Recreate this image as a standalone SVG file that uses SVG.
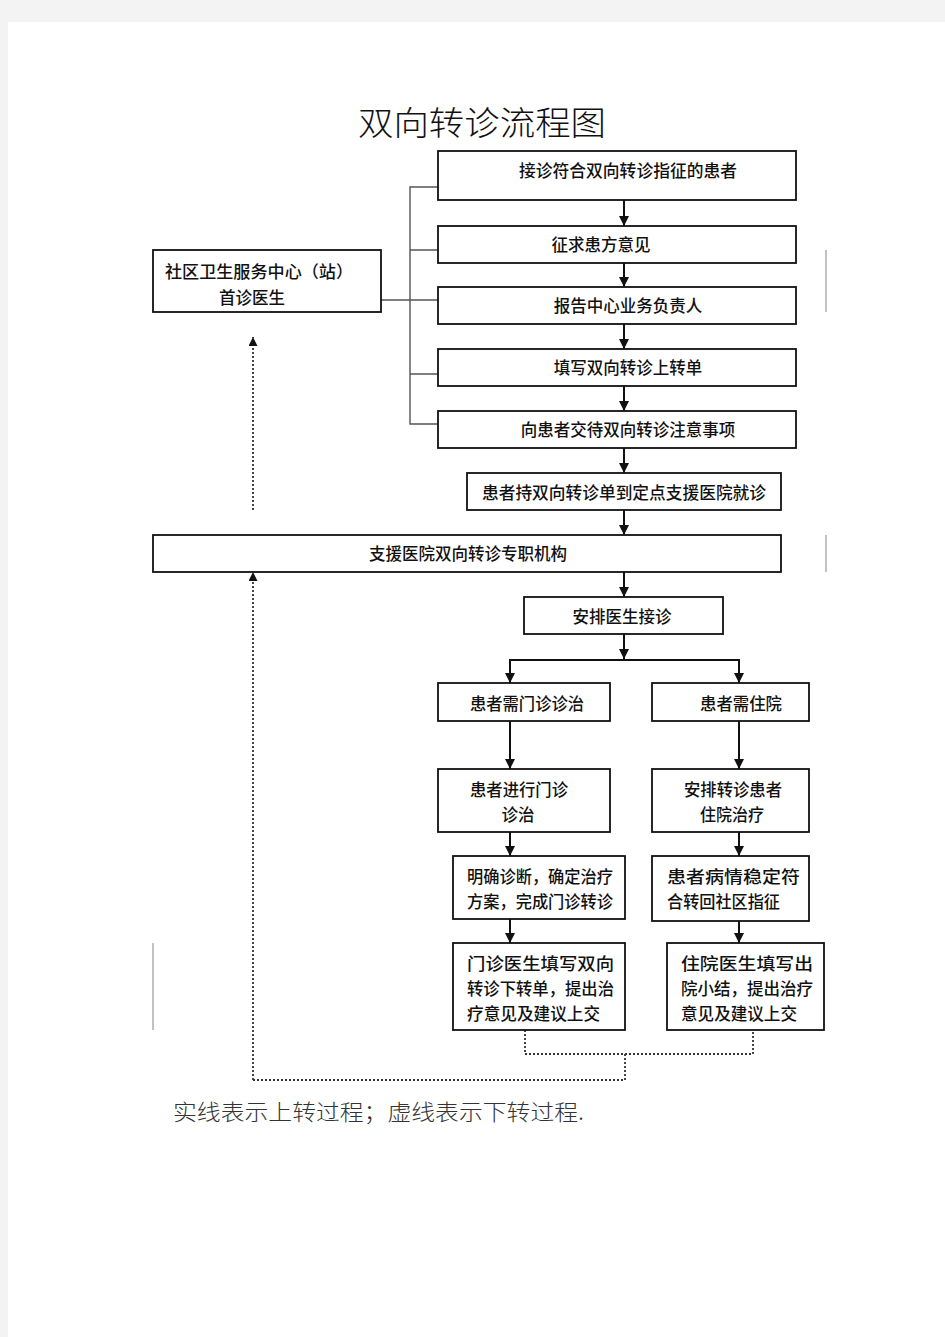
<svg xmlns="http://www.w3.org/2000/svg" width="945" height="1337" viewBox="0 0 945 1337">
<style>
.b{fill:#fff;stroke:#111;stroke-width:1.8}
.t{font-family:"Noto Sans CJK SC","Liberation Sans",sans-serif;font-size:16.5px;font-weight:500;fill:#111;text-anchor:middle;dominant-baseline:central}
.tl{font-family:"Noto Sans CJK SC","Liberation Sans",sans-serif;font-size:16.5px;font-weight:500;fill:#111;dominant-baseline:central}
.s{fill:none;stroke:#111;stroke-width:2}
.g{fill:none;stroke:#555;stroke-width:1.4}
.d{fill:none;stroke:#333;stroke-width:1.8;stroke-dasharray:2 2}
.f{fill:none;stroke:#999;stroke-width:1.2}
</style>
<defs>
<marker id="a" viewBox="0 0 10 10" refX="10" refY="5" markerWidth="10" markerHeight="10" markerUnits="userSpaceOnUse" orient="auto"><path d="M0,0L10,5L0,10z" fill="#111"/></marker>
<marker id="ad" viewBox="0 0 10 10" refX="10" refY="5" markerWidth="9" markerHeight="9" markerUnits="userSpaceOnUse" orient="auto"><path d="M0,0L10,5L0,10z" fill="#111"/></marker>
</defs>
<rect x="0" y="0" width="945" height="1337" fill="#f3f3f3"/>
<rect x="8" y="22" width="937" height="1315" fill="#fff"/>
<text x="482" y="135" font-family="Noto Sans CJK SC,Liberation Serif,serif" font-size="33" font-weight="300" fill="#111" text-anchor="middle" textLength="248" lengthAdjust="spacingAndGlyphs">双向转诊流程图</text>

<g id="connectors">
<path class="g" d="M438,187H410V424H438M410,250H438M381,300H438M410,374H438"/>
<path class="s" marker-end="url(#a)" d="M624,200V226"/>
<path class="s" marker-end="url(#a)" d="M624,263V287"/>
<path class="s" marker-end="url(#a)" d="M624,324V349"/>
<path class="s" marker-end="url(#a)" d="M624,386V411"/>
<path class="s" marker-end="url(#a)" d="M624,448V473"/>
<path class="s" marker-end="url(#a)" d="M624,510V535"/>
<path class="s" marker-end="url(#a)" d="M624,572V597"/>
<path class="s" marker-end="url(#a)" d="M624,634V659"/>
<path class="s" d="M510,660H739"/>
<path class="s" marker-end="url(#a)" d="M510,659V683"/>
<path class="s" marker-end="url(#a)" d="M739,659V683"/>
<path class="s" marker-end="url(#a)" d="M510,721V769"/>
<path class="s" marker-end="url(#a)" d="M739,721V769"/>
<path class="s" marker-end="url(#a)" d="M510,832V856"/>
<path class="s" marker-end="url(#a)" d="M739,832V856"/>
<path class="s" marker-end="url(#a)" d="M510,919V943"/>
<path class="s" marker-end="url(#a)" d="M739,921V943"/>
<path class="d" d="M525,1030V1054H753V1030M625,1054V1080H253"/>
<path class="d" marker-end="url(#ad)" d="M253,1080V572"/>
<path class="d" marker-end="url(#ad)" d="M253,510V337"/>
<path class="f" d="M826,250V312M826,535V572M153,943V1030"/>
</g>

<g id="n1"><rect class="b" x="438" y="151" width="358" height="49"/><text class="t" x="628" y="170" textLength="218" lengthAdjust="spacingAndGlyphs">接诊符合双向转诊指征的患者</text></g>
<g id="n2"><rect class="b" x="438" y="226" width="358" height="37"/><text class="t" x="601" y="244">征求患方意见</text></g>
<g id="n3"><rect class="b" x="438" y="287" width="358" height="37"/><text class="t" x="628" y="305">报告中心业务负责人</text></g>
<g id="n4"><rect class="b" x="438" y="349" width="358" height="37"/><text class="t" x="628" y="367">填写双向转诊上转单</text></g>
<g id="n5"><rect class="b" x="438" y="411" width="358" height="37"/><text class="t" x="628" y="429">向患者交待双向转诊注意事项</text></g>
<g id="n6"><rect class="b" x="467" y="473" width="314" height="37"/><text class="t" x="624" y="492" textLength="284" lengthAdjust="spacingAndGlyphs">患者持双向转诊单到定点支援医院就诊</text></g>
<g id="n0"><rect class="b" x="153" y="250" width="228" height="62"/><text class="tl" x="165" y="271" textLength="188" lengthAdjust="spacingAndGlyphs">社区卫生服务中心（站）</text><text class="t" x="252" y="297">首诊医生</text></g>
<g id="n7"><rect class="b" x="153" y="535" width="628" height="37"/><text class="t" x="468" y="553">支援医院双向转诊专职机构</text></g>
<g id="n8"><rect class="b" x="524" y="597" width="199" height="37"/><text class="t" x="622" y="616">安排医生接诊</text></g>
<g id="n9"><rect class="b" x="438" y="683" width="172" height="38"/><text class="t" x="527" y="703" textLength="114" lengthAdjust="spacingAndGlyphs">患者需门诊诊治</text></g>
<g id="n10"><rect class="b" x="652" y="683" width="157" height="38"/><text class="t" x="741" y="703" textLength="82" lengthAdjust="spacingAndGlyphs">患者需住院</text></g>
<g id="n11"><rect class="b" x="438" y="769" width="172" height="63"/><text class="t" x="519" y="789" textLength="98" lengthAdjust="spacingAndGlyphs">患者进行门诊</text><text class="t" x="518" y="814">诊治</text></g>
<g id="n12"><rect class="b" x="652" y="769" width="157" height="63"/><text class="t" x="733" y="789" textLength="98" lengthAdjust="spacingAndGlyphs">安排转诊患者</text><text class="t" x="732" y="814" textLength="64" lengthAdjust="spacingAndGlyphs">住院治疗</text></g>
<g id="n13"><rect class="b" x="453" y="856" width="172" height="63"/><text class="tl" x="467" y="876" textLength="146" lengthAdjust="spacingAndGlyphs">明确诊断，确定治疗</text><text class="tl" x="467" y="901" textLength="146" lengthAdjust="spacingAndGlyphs">方案，完成门诊转诊</text></g>
<g id="n14"><rect class="b" x="652" y="856" width="157" height="65"/><text class="tl" x="667" y="876" textLength="133" lengthAdjust="spacingAndGlyphs">患者病情稳定符</text><text class="tl" x="667" y="901" textLength="113" lengthAdjust="spacingAndGlyphs">合转回社区指征</text></g>
<g id="n15"><rect class="b" x="453" y="943" width="172" height="87"/><text class="tl" x="467" y="963" textLength="147" lengthAdjust="spacingAndGlyphs">门诊医生填写双向</text><text class="tl" x="467" y="988" textLength="147" lengthAdjust="spacingAndGlyphs">转诊下转单，提出治</text><text class="tl" x="467" y="1013" textLength="133" lengthAdjust="spacingAndGlyphs">疗意见及建议上交</text></g>
<g id="n16"><rect class="b" x="667" y="943" width="157" height="87"/><text class="tl" x="681" y="963" textLength="132" lengthAdjust="spacingAndGlyphs">住院医生填写出</text><text class="tl" x="681" y="988" textLength="132" lengthAdjust="spacingAndGlyphs">院小结，提出治疗</text><text class="tl" x="681" y="1013" textLength="116" lengthAdjust="spacingAndGlyphs">意见及建议上交</text></g>

<text x="173" y="1120" font-family="Noto Sans CJK SC,Liberation Serif,serif" font-size="22" font-weight="300" fill="#333" textLength="411" lengthAdjust="spacingAndGlyphs">实线表示上转过程；虚线表示下转过程.</text>
</svg>
